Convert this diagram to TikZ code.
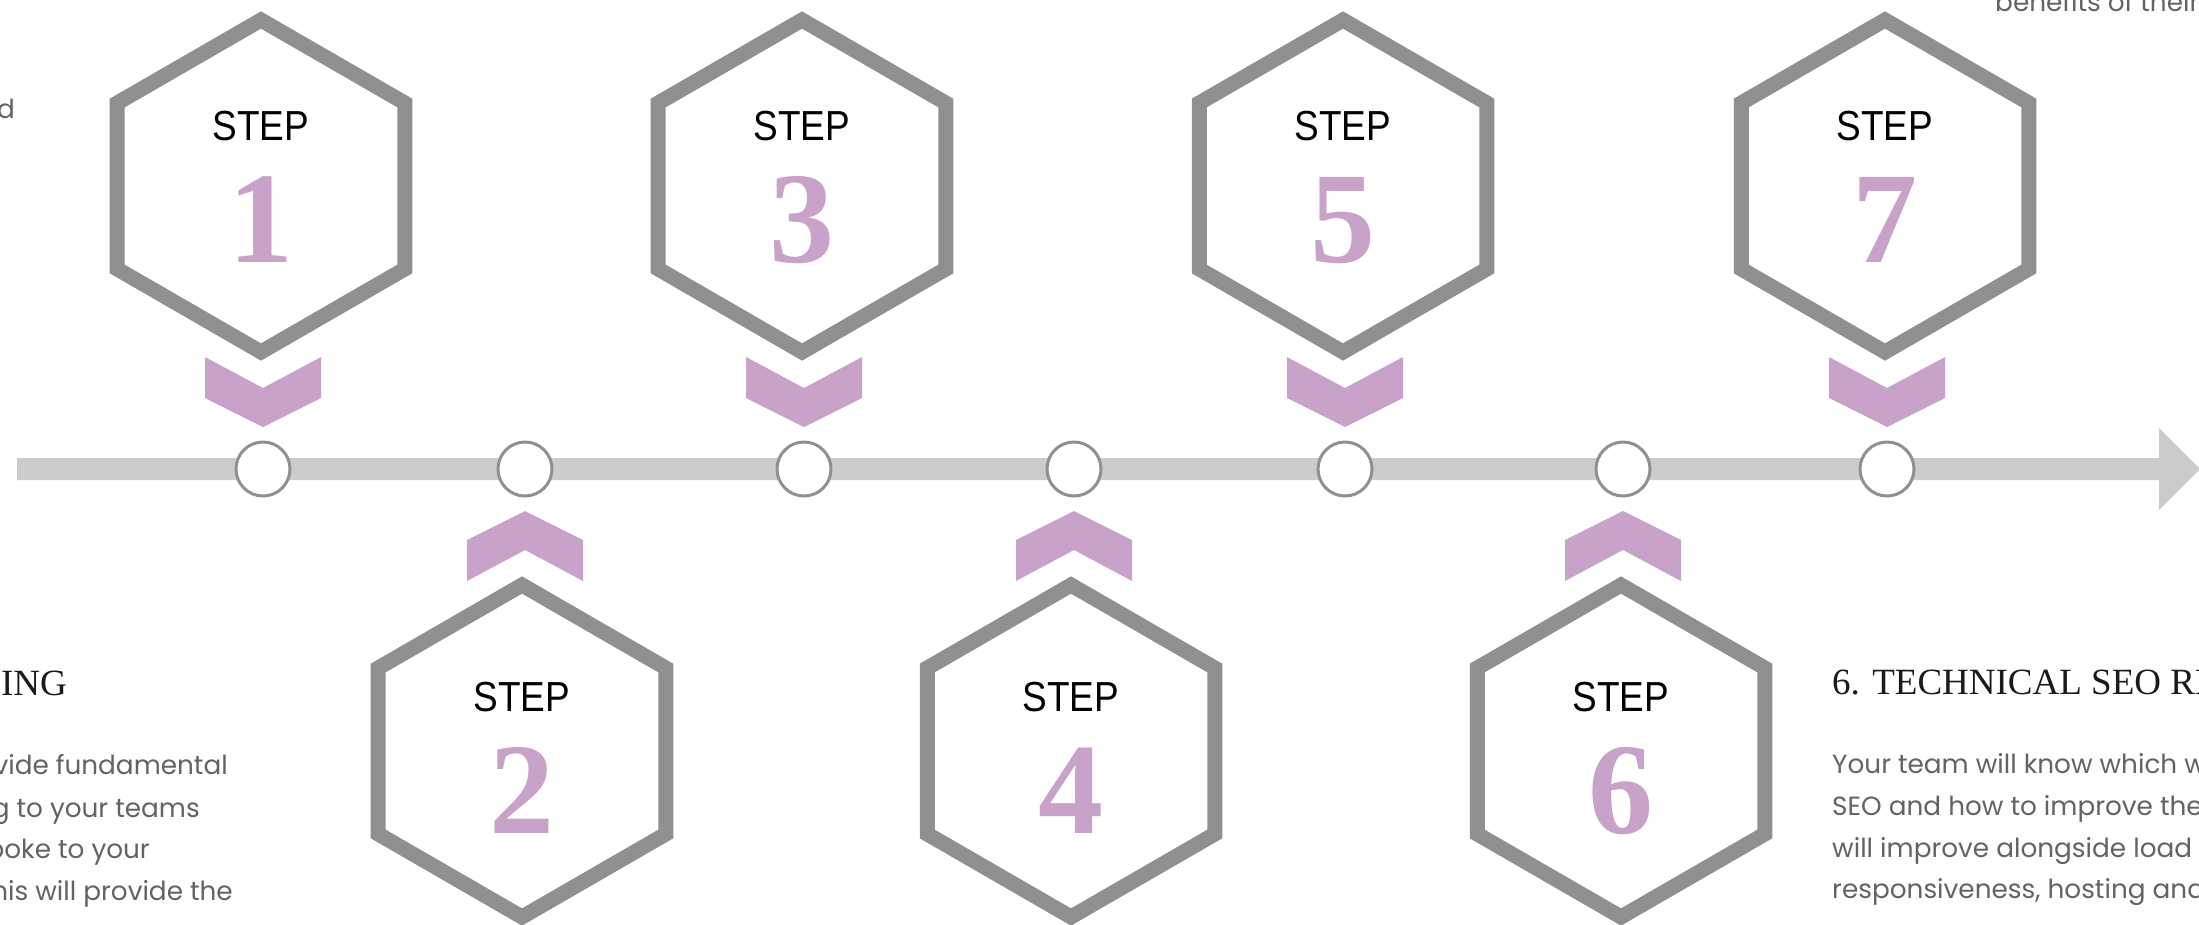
\documentclass[tikz,border=0pt]{standalone}
\usepackage{fontspec}
\setmainfont{Liberation Serif}
\newfontfamily\stepfont[FakeStretch=0.88]{Liberation Sans}
\newfontfamily\bodyfont{Poppins}
\newfontfamily\numfont{Liberation Serif}
\definecolor{hexgray}{HTML}{909090}
\definecolor{chevpurple}{HTML}{C8A2C8}
\definecolor{bargray}{HTML}{CCCCCC}
\definecolor{bodygray}{HTML}{636363}
\definecolor{headdark}{HTML}{1A1A1A}
\begin{document}
\begin{tikzpicture}[x=1pt,y=-1pt,
  hexline/.style={draw=hexgray, line width=15pt, line join=miter},
  chev/.style={fill=chevpurple},
  dot/.style={circle, draw=hexgray, line width=3pt, fill=white, minimum size=54pt, inner sep=0pt},
  steplabel/.style={font=\stepfont\fontsize{42}{42}\selectfont, text=black, anchor=base, inner sep=0pt},
  numlabel/.style={font=\numfont\bfseries\fontsize{130}{130}\selectfont, text=chevpurple, anchor=base, inner sep=0pt},
  bodyw/.style={font=\bodyfont\fontsize{26.3}{42}\selectfont, text=bodygray, anchor=base west, inner sep=0pt},
  bodye/.style={font=\bodyfont\fontsize{26.3}{42}\selectfont, text=bodygray, anchor=base east, inner sep=0pt},
  headw/.style={font=\fontsize{37}{40}\selectfont, text=headdark, anchor=base west, inner sep=0pt},
  heade/.style={font=\fontsize{37}{40}\selectfont, text=headdark, anchor=base east, inner sep=0pt}]
\useasboundingbox (0,0) rectangle (2199,924);
\clip (0,0) rectangle (2199,924);
\fill[white] (0,0) rectangle (2199,924);

% timeline bar with arrow head
\coordinate (barstart) at (17,469);
\coordinate (bartip) at (2200,469);
\fill[bargray] (barstart) ++(0,-11) -- (2159,458) -- (2159,428) -- (bartip) -- (2159,510) -- (2159,480) -- (17,480) -- cycle;

% dots on the timeline
\foreach \x [count=\i] in {263,525,804,1074,1345,1623,1887}
  \node[dot] (dot\i) at (\x,469) {};

% top hexagons (steps 1,3,5,7)
\foreach \cx/\n in {261/1,802/3,1343/5,1885/7}{
  \coordinate (hex\n) at (\cx,186);
  \draw[hexline] (hex\n) +(90:166) -- +(30:166) -- +(-30:166) -- +(-90:166) -- +(-150:166) -- +(150:166) -- cycle;
  \node[steplabel] (steptext\n) at (\cx,140) {STEP};
  \node[numlabel] (num\n) at (\cx,262) {\n};
}
% bottom hexagons (steps 2,4,6)
\foreach \cx/\n in {522/2,1071/4,1621/6}{
  \coordinate (hex\n) at (\cx,751);
  \draw[hexline] (hex\n) +(90:166) -- +(30:166) -- +(-30:166) -- +(-90:166) -- +(-150:166) -- +(150:166) -- cycle;
  \node[steplabel] (steptext\n) at (\cx,711) {STEP};
  \node[numlabel] (num\n) at (\cx,833) {\n};
}

% chevrons pointing down (above the timeline)
\foreach \cx in {263,804,1345,1887}
  \fill[chev] (\cx,427) +(-58,-70) -- +(0,-39) -- +(58,-70) -- +(58,-29) -- +(0,0) -- +(-58,-29) -- cycle;
% chevrons pointing up (below the timeline)
\foreach \cx in {525,1074,1623}
  \fill[chev] (\cx,511) +(-58,70) -- +(0,39) -- +(58,70) -- +(58,29) -- +(0,0) -- +(-58,29) -- cycle;

% cut-off texts at the edges
\node[bodye] (tl) at (15,118) {d};
\node[bodyw] (tr) at (1995,11) {benefits of their};

\node[heade] (lhead) at (67,695) {ING};
\node[bodye] (l1) at (228,774) {vide fundamental};
\node[bodye] (l2) at (200,817) {g to your teams};
\node[bodye] (l3) at (150,858) {poke to your};
\node[bodye] (l4) at (233,900) {his will provide the};

\node[headw] (rhead) at (1832,694) {6. TECHNICAL SEO RE};
\node[bodyw] (r1) at (1832,773) {Your team will know which w};
\node[bodyw] (r2) at (1832,815) {SEO and how to improve the};
\node[bodyw] (r3) at (1832,857) {will improve alongside load};
\node[bodyw] (r4) at (1832,898) {responsiveness, hosting and};
\end{tikzpicture}
\end{document}
